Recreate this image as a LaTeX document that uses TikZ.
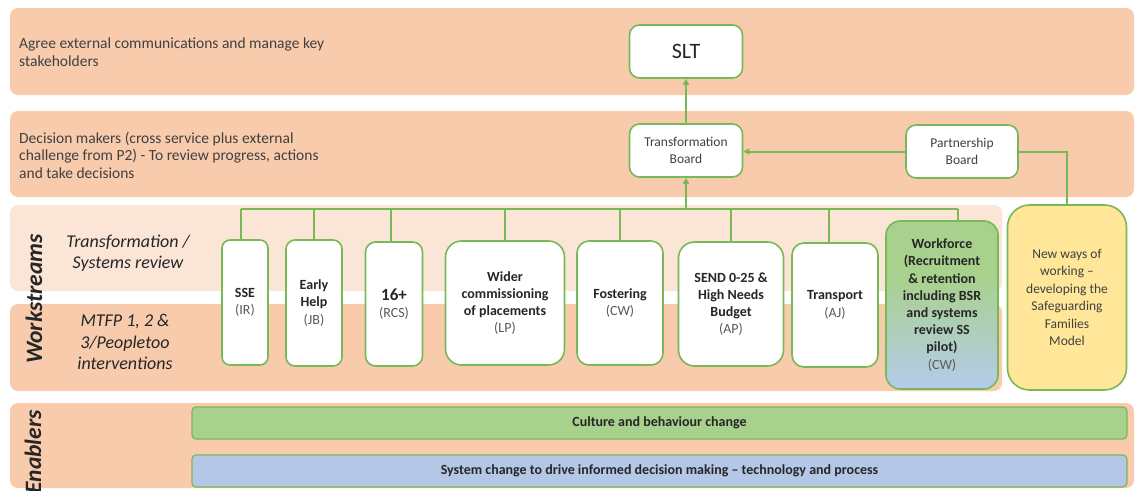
\documentclass[tikz,border=0pt]{standalone}
\usepackage{fontspec}
\setmainfont{Carlito}
\usetikzlibrary{arrows.meta,calc}
\definecolor{peach}{HTML}{F8CBAD}
\definecolor{lpeach}{HTML}{FBE5D6}
\definecolor{gline}{HTML}{78B856}
\definecolor{wfgreen}{HTML}{A9D18E}
\definecolor{wfblue}{HTML}{B4CBE9}
\definecolor{barblue}{HTML}{B4C7E7}
\definecolor{ylw}{HTML}{FFE699}
\definecolor{txt}{HTML}{262626}
\definecolor{txttwo}{HTML}{404040}
\definecolor{gtxt}{HTML}{595959}
\pgfdeclareverticalshading{wfshade}{100bp}{color(0bp)=(wfblue); color(26bp)=(wfblue); color(58bp)=(wfgreen); color(100bp)=(wfgreen)}
\begin{document}
\begin{tikzpicture}[x=1pt,y=-1pt,
  band/.style={fill=peach, draw=none, rounded corners=8pt, inner sep=0pt},
  bandtxt/.style={font=\fontsize{15.5}{17.5}\selectfont, text=txttwo, align=left, anchor=west, inner sep=0pt},
  wslabel/.style={font=\itshape\fontsize{18}{21.5}\selectfont, text=txt, align=center, inner sep=0pt},
  vlabel/.style={rotate=90, font=\bfseries\itshape\fontsize{23.5}{26}\selectfont, text=txt, inner sep=0pt},
  rbox/.style={draw=gline, line width=1.6pt, fill=white, rounded corners=10pt, align=center, inner sep=0pt, text=txt},
  wsbox/.style={rbox, font=\bfseries\fontsize{14}{17.2}\selectfont},
  bar/.style={draw=gline, line width=1.2pt, rounded corners=4pt, inner sep=0pt, text=txt, font=\bfseries\fontsize{14}{15}\selectfont},
  conn/.style={draw=gline, line width=2pt},
  tip/.style={-{Triangle[length=6pt,width=6pt]}}
]
\useasboundingbox (0,0) rectangle (1139,490);
% bands
\node[band, minimum width=1124pt, minimum height=87pt] (b1) at (572,51.5) {};
\node[band, minimum width=1124pt, minimum height=86pt] (b2) at (572,154) {};
\node[band, fill=lpeach, minimum width=992pt, minimum height=86pt] (wt) at (506,248) {};
\node[band, minimum width=992pt, minimum height=87pt] (wb) at (506,347.5) {};
\node[band, minimum width=1124pt, minimum height=85pt] (en) at (572,445.5) {};
% band texts
\node[bandtxt] (t1) at (19,52) {Agree external communications and manage key\\stakeholders};
\node[bandtxt] (t2) at (19,155) {Decision makers (cross service plus external\\challenge from P2) - To review progress, actions\\and take decisions};
\node[wslabel] (t3) at (128,253) {Transformation /\\Systems review};
\node[wslabel] (t4) at (125,342) {MTFP 1, 2 \&\\3/Peopletoo\\interventions};
\node[vlabel] (vws) at (34,299) {Workstreams};
\node[vlabel, anchor=east] (ven) at (33,410) {Enablers};
% governance boxes
\node[rbox, minimum width=113pt, minimum height=53pt, font=\fontsize{22}{26}\selectfont] (slt) at (686,51.5) {SLT};
\node[rbox, minimum width=113pt, minimum height=53pt, font=\fontsize{13.5}{16.5}\selectfont, text=txttwo] (tb) at (686,150.5) {Transformation\\Board};
\node[rbox, minimum width=112pt, minimum height=53pt, font=\fontsize{13.5}{16.5}\selectfont, text=txttwo] (pb) at (962,151.5) {Partnership\\Board};
% workstream boxes
\node[wsbox, rounded corners=8pt, minimum width=46pt, minimum height=125pt] (sse) at (245,302.5) {SSE\\\textcolor{gtxt}{\mdseries (IR)}};
\node[wsbox, rounded corners=9pt, minimum width=56pt, minimum height=126pt] (eh) at (314,303) {Early\\Help\\\textcolor{gtxt}{\mdseries (JB)}};
\node[wsbox, rounded corners=10pt, minimum width=57pt, minimum height=124pt] (sx) at (394,304) {{\fontsize{17}{17.2}\selectfont 16+}\\\textcolor{gtxt}{\mdseries (RCS)}};
\node[wsbox, rounded corners=16pt, minimum width=119pt, minimum height=124pt] (wc) at (505,303) {Wider\\commissioning\\of placements\\\textcolor{gtxt}{\mdseries (LP)}};
\node[wsbox, rounded corners=12pt, minimum width=86pt, minimum height=124pt] (fo) at (620,303) {Fostering\\\textcolor{gtxt}{\mdseries (CW)}};
\node[wsbox, rounded corners=16pt, minimum width=105pt, minimum height=124pt] (se) at (731,304) {SEND 0-25 \&\\High Needs\\Budget\\\textcolor{gtxt}{\mdseries (AP)}};
\node[wsbox, rounded corners=12pt, minimum width=86pt, minimum height=124pt] (tr) at (835,305) {Transport\\\textcolor{gtxt}{\mdseries (AJ)}};
\node[wsbox, rounded corners=14pt, shade, shading=wfshade, minimum width=112pt, minimum height=168pt] (wf) at (942,305) {Workforce\\(Recruitment\\\& retention\\including BSR\\and systems\\review SS\\pilot)\\\textcolor{gtxt}{\mdseries (CW)}};
\node[rbox, fill=ylw, rounded corners=22pt, minimum width=119pt, minimum height=185pt, font=\fontsize{13.5}{17.4}\selectfont, text=txttwo] (yl) at (1067,297.5) {New ways of\\working –\\developing the\\Safeguarding\\Families\\Model};
% enabler bars
\node[bar, fill=wfgreen, minimum width=935pt, minimum height=32pt] (cul) at (659.5,423) {Culture and behaviour change};
\node[bar, fill=barblue, minimum width=935pt, minimum height=32pt] (sys) at (659.5,471) {System change to drive informed decision making – technology and process};
% connectors
\coordinate (busL) at (241,209);
\coordinate (busR) at (958,209);
\draw[conn] (busL) -- (busR);
\draw[conn] (sse.north -| busL) -- (busL);
\draw[conn] (eh.north) -- (eh.north |- busL);
\draw[conn] ([xshift=-3pt]sx.north) -- ([xshift=-3pt]sx.north |- busL);
\draw[conn] (wc.north) -- (wc.north |- busL);
\draw[conn] (fo.north) -- (fo.north |- busL);
\draw[conn] (se.north) -- (se.north |- busL);
\draw[conn] ([xshift=-6pt]tr.north) -- ([xshift=-6pt]tr.north |- busL);
\draw[conn] (wf.north -| busR) -- (busR);
\draw[conn, tip] (tb.south |- busL) -- (tb.south);
\draw[conn, tip] (tb.north) -- (slt.south);
\draw[conn, tip] (pb.west) -- (pb.west -| tb.east);
\draw[conn] (pb.east) -| (yl.north);
\end{tikzpicture}
\end{document}
